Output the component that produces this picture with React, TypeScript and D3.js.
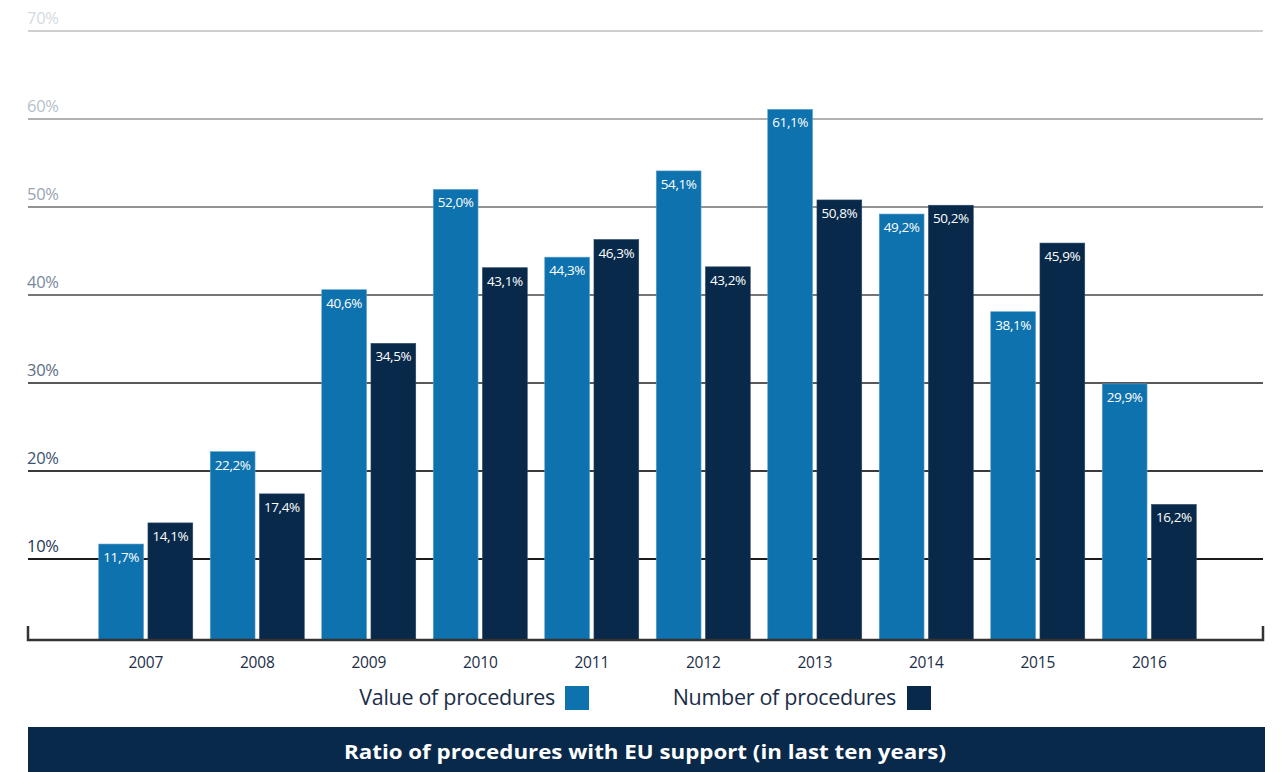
import React from "react";
import * as d3 from "d3";

const years = ["2007", "2008", "2009", "2010", "2011", "2012", "2013", "2014", "2015", "2016"];
const valueOfProcedures = [11.7, 22.2, 40.6, 52.0, 44.3, 54.1, 61.1, 49.2, 38.1, 29.9];
const numberOfProcedures = [14.1, 17.4, 34.5, 43.1, 46.3, 43.2, 50.8, 50.2, 45.9, 16.2];
const yTicks = [10, 20, 30, 40, 50, 60, 70];
const seriesKeys = ["value", "number"];
const seriesNames = ["Value of procedures", "Number of procedures"];
const title = "Ratio of procedures with EU support (in last ten years)";

const W = 1281;
const H = 772;
const FONT = "'Open Sans', 'Noto Sans', sans-serif";
const LIGHT = "#0e72ae";
const DARK = "#08294a";

const fmt = (v: number) => v.toFixed(1).replace(".", ",") + "%";

export default function App() {
  const left = 28;
  const right = 1263;
  const axisY = 640;
  const y = d3.scaleLinear().domain([0, 70]).range([647, 31]);
  const x0 = d3
    .scaleBand<string>()
    .domain(years)
    .range([90, 1205])
    .paddingInner(0.157)
    .paddingOuter(0.0785);
  const x1 = d3.scaleBand<string>().domain(seriesKeys).range([0, x0.bandwidth()]).paddingInner(0.09);
  const gridColor = d3.scaleLinear<string>().domain([10, 70]).range(["#1c1c1c", "#cfcfcf"]);
  const labelColor = d3.scaleLinear<string>().domain([10, 70]).range(["#1d3857", "#d3dae2"]);

  const series = [valueOfProcedures, numberOfProcedures];
  const colors = [LIGHT, DARK];

  return (
    <svg
      width={W}
      height={H}
      style={{ position: "absolute", left: 0, top: 0, display: "block" }}
      fontFamily={FONT}
    >
      <rect width={W} height={H} fill="#fff" />
      {yTicks.map((t) => (
        <g key={t}>
          <line x1={left} x2={right} y1={y(t)} y2={y(t)} stroke={gridColor(t)} strokeWidth={1.8} />
          <text x={left - 1} y={y(t) - 7} fontSize={16.5} fill={labelColor(t)} letterSpacing={-0.3}>
            {t}%
          </text>
        </g>
      ))}
      {years.map((yr, i) => (
        <g key={yr} transform={`translate(${x0(yr)},0)`}>
          {seriesKeys.map((k, j) => {
            const v = series[j][i];
            const bx = x1(k)!;
            const bw = x1.bandwidth();
            return (
              <g key={k}>
                <rect
                  x={bx}
                  y={y(v)}
                  width={bw}
                  height={axisY - y(v)}
                  fill={colors[j]}
                  stroke={j === 0 ? "#5f9fc8" : "#2a4663"}
                  strokeWidth={0.6}
                />
                <text
                  x={bx + bw / 2}
                  y={y(v) + 18}
                  textAnchor="middle"
                  fontSize={13.5}
                  fill="#fff"
                  letterSpacing={-0.4}
                >
                  {fmt(v)}
                </text>
              </g>
            );
          })}
          <text
            x={x0.bandwidth() / 2}
            y={668}
            textAnchor="middle"
            fontSize={15.5}
            fill="#1b2e47"
            letterSpacing={-0.2}
          >
            {yr}
          </text>
        </g>
      ))}
      <path
        d={`M${left},${axisY - 14}V${axisY}H${right}V${axisY - 14}`}
        fill="none"
        stroke="#333"
        strokeWidth={2.5}
      />
      <g>
        <text x={555} y={705} textAnchor="end" fontSize={21.5} fill="#1b2e47" letterSpacing={-0.3}>
          {seriesNames[0]}
        </text>
        <rect x={565} y={686} width={24} height={24} fill={LIGHT} />
        <text x={896} y={705} textAnchor="end" fontSize={21.5} fill="#1b2e47" letterSpacing={-0.3}>
          {seriesNames[1]}
        </text>
        <rect x={907} y={686} width={24} height={24} fill={DARK} />
      </g>
      <rect x={28} y={727} width={1237} height={45} fill={DARK} />
      <text
        x={645}
        y={759}
        textAnchor="middle"
        fontSize={20}
        fontWeight="bold"
        fill="#fff"
        textLength={602}
        lengthAdjust="spacingAndGlyphs"
      >
        {title}
      </text>
    </svg>
  );
}
